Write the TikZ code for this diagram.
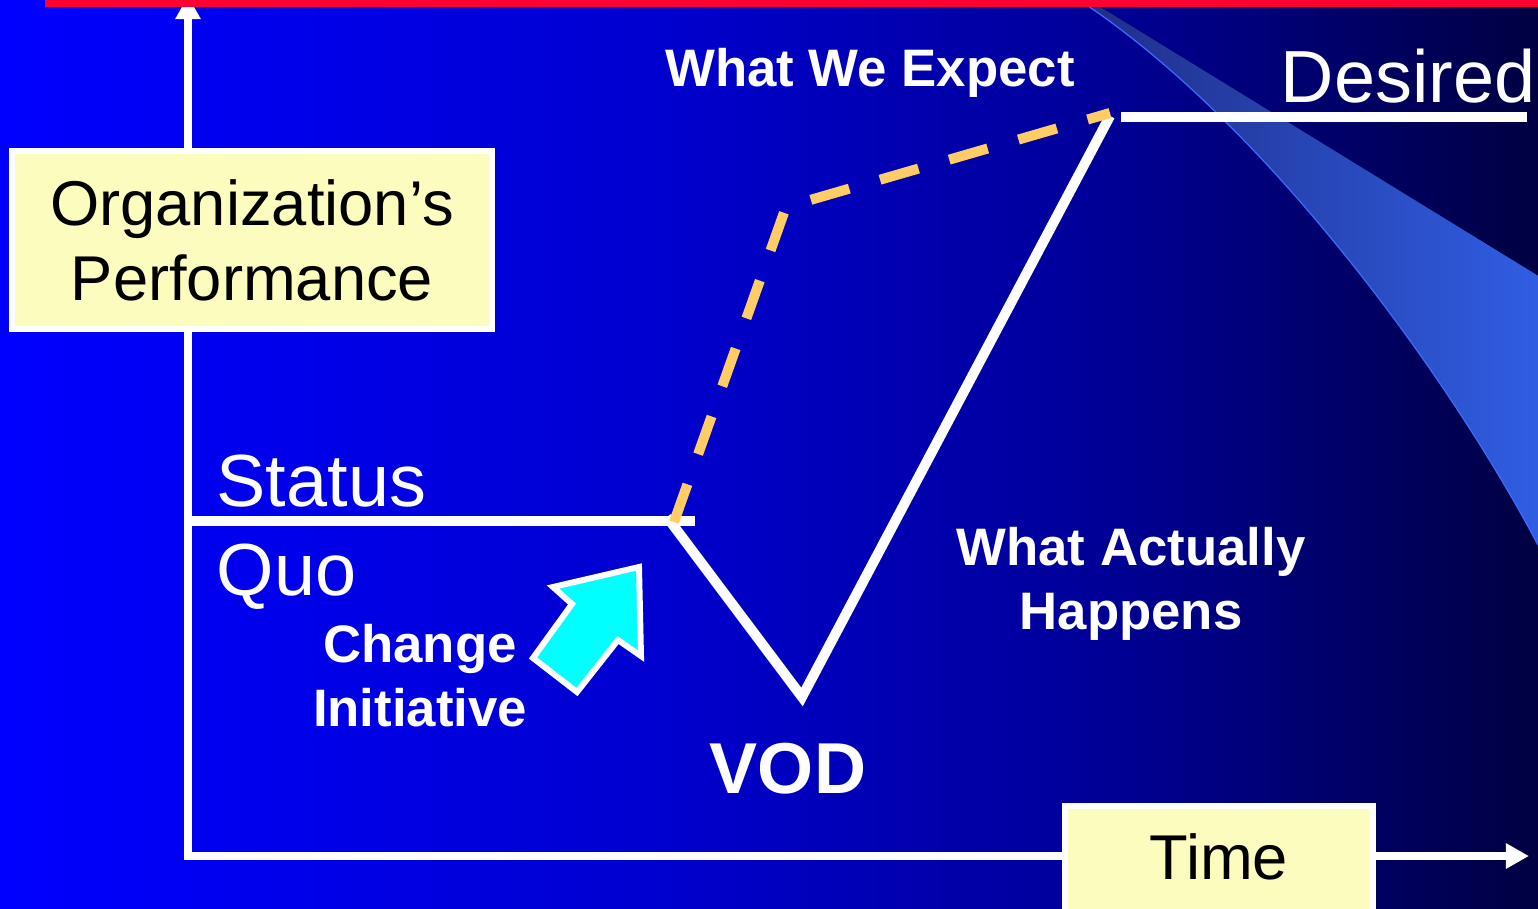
\documentclass[tikz,border=0pt]{standalone}
\usepackage{fontspec}
\setmainfont{Liberation Sans}
\usetikzlibrary{arrows.meta}

\definecolor{topred}{HTML}{FF0033}
\definecolor{boxyellow}{HTML}{FCFCBE}
\definecolor{expectorange}{HTML}{FFCC66}
\definecolor{arrowcyan}{RGB}{0,255,255}
\definecolor{bgA}{RGB}{0,0,255}
\definecolor{bgB}{RGB}{0,0,240}
\definecolor{bgC}{RGB}{0,0,205}
\definecolor{bgD}{RGB}{0,0,150}
\definecolor{bgE}{RGB}{0,0,66}
\definecolor{swooshleft}{HTML}{1F2E88}
\definecolor{swooshright}{HTML}{305EE4}
\definecolor{swooshedge}{HTML}{3A6BFF}

% blue to navy, left to right
\pgfdeclarehorizontalshading{slidebg}{100bp}{color(0bp)=(bgA); color(25bp)=(bgA);
  color(32bp)=(bgB); color(47bp)=(bgC); color(61bp)=(bgD); color(75bp)=(bgE); color(100bp)=(bgE)}

\begin{document}
\begin{tikzpicture}[x=0.01cm,y=-0.01cm,
  ybox/.style={fill=boxyellow, draw=white, line width=1.7pt, align=center,
    font=\fontsize{18}{21.3}\selectfont},
  lbl/.style={text=white, inner sep=0pt},
  bold/.style={lbl, align=center, font=\fontsize{15}{18}\selectfont\bfseries},
  axisline/.style={white, line width=2.3pt, {Triangle[length=0.23cm,width=0.24cm]}-{Triangle[length=0.23cm,width=0.24cm]}},
  curve/.style={white, line width=2.85pt}]
\useasboundingbox (0,0) rectangle (1538,908);
\fill[shading=slidebg] (0,0) rectangle (1538,908);

% swoosh on the right
\fill[left color=swooshleft, right color=swooshright]
  (1079,0) .. controls (1255,115) and (1440,360) .. (1538,545)
  -- (1545,545) -- (1545,280) -- (1089,0) -- cycle;
\draw[swooshedge, line width=0.35pt] (1079,0) .. controls (1255,115) and (1440,360) .. (1538,545);

\coordinate (O) at (188,856);
\coordinate (ytip) at (188,-4);
\coordinate (xtip) at (1529,856);
\draw[axisline] (ytip) -- (O) -- (xtip);
\fill[topred] (45,0) rectangle (1538,7);

\node[ybox, minimum width=4.8cm, minimum height=1.77cm] (perf) at (252,240) {Organization’s\\Performance};
\node[ybox, minimum width=3.07cm, minimum height=1.14cm, text height=0.46cm, text depth=0.14cm] (time) at (1219,863) {Time};

% status quo and what happens
\coordinate (sqL) at (188,521);
\coordinate (sqR) at (695,521);
\draw[curve, line width=3.1pt] (sqL) -- (sqR);
\coordinate (drop) at (667,517);
\coordinate (vod) at (802,697);
\coordinate (peak) at (1110,116);
\draw[curve] (drop) -- (vod) -- (peak);
\coordinate (dsL) at (1121,117);
\coordinate (dsR) at (1527,117);
\draw[curve] (dsL) -- (dsR);

% what we expect
\coordinate (exp0) at (674,522);
\coordinate (knee) at (786,207);
\coordinate (exp1) at (1110,113);
\draw[expectorange, line width=2.85pt, dash pattern=on 0.4cm off 0.32cm] (exp0) -- (knee) -- (exp1);

% change arrow
\draw[fill=arrowcyan, draw=white, line width=1.7pt] (553,587) -- (572,604) -- (533,658) -- (577,692)
  -- (618,640) -- (641,656) -- (639,567) -- cycle;

\node[lbl, anchor=base west, font=\fontsize{21}{25}\selectfont] (status) at (216,506) {Status};
\node[lbl, anchor=base west, font=\fontsize{21}{25}\selectfont] (quo) at (216,595) {Quo};
\node[lbl, anchor=base east, font=\fontsize{21}{25}\selectfont] (desired) at (1536,102) {Desired};
\node[bold, anchor=base] (expect) at (870,86) {What We Expect};
\node[bold, anchor=north] (actual) at (1131,527) {What Actually\\Happens};
\node[bold, anchor=north] (change) at (420,624) {Change\\Initiative};
\node[bold, anchor=base, font=\fontsize{20.5}{24}\selectfont\bfseries] (vodlbl) at (788,793) {VOD};
\end{tikzpicture}
\end{document}
